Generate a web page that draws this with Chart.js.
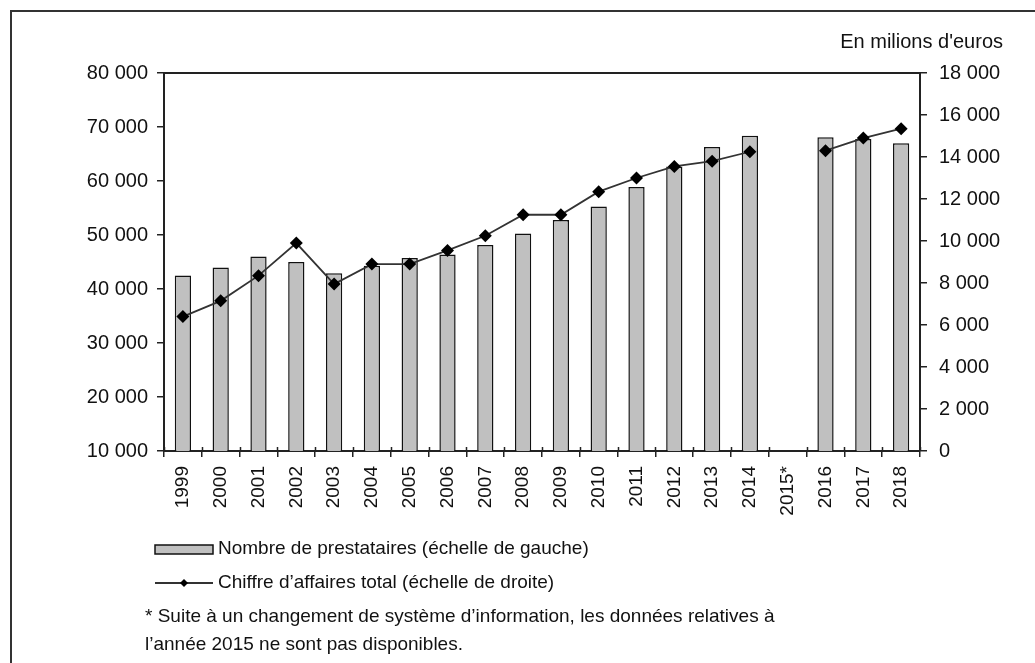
<!DOCTYPE html>
<html lang="fr">
<head>
<meta charset="utf-8">
<title>Prestataires et chiffre d'affaires</title>
<script src="https://cdn.jsdelivr.net/npm/chart.js@4.4.1/dist/chart.umd.min.js"></script>
<style>
    html, body { margin: 0; padding: 0; background: #fff; }
    canvas { display: block; }
</style>
</head>
<body>
<canvas id="chart" width="1035" height="663"></canvas>
<script>
// --- Data ---
const years = ['1999', '2000', '2001', '2002', '2003', '2004', '2005', '2006', '2007', '2008',
               '2009', '2010', '2011', '2012', '2013', '2014', '2015*', '2016', '2017', '2018'];

// Nombre de prestataires (left scale) - no data for 2015
const prestataires = [42500, 44000, 46000, 45000, 42900, 44300, 45750, 46400, 48150, 50300,
                      52800, 55300, 58900, 62700, 66300, 68400, null, 68100, 67800, 67000];

// Chiffre d'affaires total, millions d'euros (right scale)
const chiffreAffaires = [6400, 7150, 8350, 9900, 7950, 8900, 8900, 9550, 10250, 11250,
                         11250, 12350, 13000, 13550, 13800, 14250, null, 14300, 14900, 15350];

const leftTicks = [10000, 20000, 30000, 40000, 50000, 60000, 70000, 80000];
const rightTicks = [0, 2000, 4000, 6000, 8000, 10000, 12000, 14000, 16000, 18000];

const legendLabels = ['Nombre de prestataires (échelle de gauche)', 'Chiffre d\u2019affaires total (échelle de droite)'];
const noteLines = [
    '* Suite à un changement de système d\u2019information, les données relatives à',
    'l\u2019année 2015 ne sont pas disponibles.'
];
const unitLabel = 'En milions d\'euros';

const FONT = 'Arial, "Liberation Sans", sans-serif';
const INK = '#111';
const AXIS = '#222';

// "80 000" style thousands
const fmt = v => String(v).replace(/\B(?=(\d{3})+(?!\d))/g, ' ');

// --- Extras drawn on the canvas: frame, top border, tick crossings, legend, notes ---
const decorations = {
    id: 'decorations',
    afterDraw(chart) {
        const ctx = chart.ctx;
        const area = chart.chartArea;
        const x = chart.scales.x;
        ctx.save();

        // outer frame (runs off the right and bottom edges)
        ctx.strokeStyle = '#333';
        ctx.lineWidth = 2;
        ctx.beginPath();
        ctx.moveTo(11, chart.height);
        ctx.lineTo(11, 11);
        ctx.lineTo(chart.width, 11);
        ctx.stroke();

        // top border of the plot
        ctx.strokeStyle = AXIS;
        ctx.lineWidth = 2;
        ctx.beginPath();
        ctx.moveTo(area.left, area.top);
        ctx.lineTo(area.right, area.top);
        ctx.stroke();

        // category ticks poke slightly above the x axis
        ctx.lineWidth = 1.5;
        const n = years.length;
        const step = (x.right - x.left) / n;
        ctx.beginPath();
        for (let i = 0; i <= n; i++) {
            const px = Math.round(x.left + i * step) + 0.5;
            ctx.moveTo(px, area.bottom - 4);
            ctx.lineTo(px, area.bottom);
        }
        ctx.stroke();

        // unit label above right axis
        ctx.fillStyle = INK;
        ctx.font = '20px ' + FONT;
        ctx.textAlign = 'right';
        ctx.textBaseline = 'middle';
        ctx.fillText(unitLabel, 1003, 42);

        // legend
        const bars = chart.data.datasets[0];
        const line = chart.data.datasets[1];
        ctx.font = '19px ' + FONT;
        ctx.textAlign = 'left';

        ctx.fillStyle = bars.backgroundColor;
        ctx.fillRect(155, 545, 58, 9);
        ctx.strokeStyle = bars.borderColor;
        ctx.lineWidth = 1.5;
        ctx.strokeRect(155, 545, 58, 9);
        ctx.fillStyle = INK;
        ctx.fillText(legendLabels[0], 218, 549);

        ctx.strokeStyle = line.borderColor;
        ctx.lineWidth = line.borderWidth;
        ctx.beginPath();
        ctx.moveTo(155, 583);
        ctx.lineTo(213, 583);
        ctx.stroke();
        ctx.fillStyle = line.pointBackgroundColor;
        ctx.beginPath();
        ctx.moveTo(184, 579);
        ctx.lineTo(188, 583);
        ctx.lineTo(184, 587);
        ctx.lineTo(180, 583);
        ctx.closePath();
        ctx.fill();
        ctx.fillStyle = INK;
        ctx.fillText(legendLabels[1], 218, 583);

        // footnote
        noteLines.forEach((t, i) => ctx.fillText(t, 145, 617 + i * 28));

        ctx.restore();
    }
};

// --- Chart ---
new Chart(document.getElementById('chart'), {
    type: 'bar',
    data: {
        labels: years,
        datasets: [
            {
                type: 'bar',
                label: legendLabels[0],
                data: prestataires,
                yAxisID: 'y',
                backgroundColor: '#c0c0c0',
                borderColor: '#111',
                borderWidth: 1.5,
                barPercentage: 0.43,
                categoryPercentage: 1,
                order: 2
            },
            {
                type: 'line',
                label: legendLabels[1],
                data: chiffreAffaires,
                yAxisID: 'y1',
                borderColor: '#333',
                borderWidth: 1.8,
                pointStyle: 'rectRot',
                pointRadius: 6.5,
                pointBackgroundColor: '#000',
                pointBorderColor: '#000',
                pointBorderWidth: 0,
                spanGaps: false,
                tension: 0,
                order: 1
            }
        ]
    },
    options: {
        responsive: false,
        animation: false,
        layout: { padding: { top: 73, left: 0, right: 0, bottom: 0 } },
        plugins: {
            legend: { display: false },
            tooltip: { enabled: false }
        },
        scales: {
            x: {
                offset: true,
                grid: {
                    display: true,
                    offset: true,
                    drawOnChartArea: false,
                    tickLength: 6,
                    color: AXIS,
                    lineWidth: 1.5
                },
                border: { display: true, color: AXIS, width: 2 },
                ticks: {
                    autoSkip: false,
                    minRotation: 90,
                    maxRotation: 90,
                    padding: 9,
                    color: INK,
                    font: { family: FONT, size: 19 }
                },
                afterFit(scale) { scale.height = 212; }
            },
            y: {
                position: 'left',
                min: 10000,
                max: 80000,
                afterBuildTicks(scale) { scale.ticks = leftTicks.map(v => ({ value: v })); },
                grid: {
                    display: true,
                    drawOnChartArea: false,
                    tickLength: 7,
                    color: AXIS,
                    lineWidth: 1.5
                },
                border: { display: true, color: AXIS, width: 2 },
                ticks: {
                    padding: 9,
                    color: INK,
                    font: { family: FONT, size: 20 },
                    callback: v => fmt(v)
                },
                afterFit(scale) { scale.width = 164; }
            },
            y1: {
                position: 'right',
                min: 0,
                max: 18000,
                afterBuildTicks(scale) { scale.ticks = rightTicks.map(v => ({ value: v })); },
                grid: {
                    display: true,
                    drawOnChartArea: false,
                    tickLength: 7,
                    color: AXIS,
                    lineWidth: 1.5
                },
                border: { display: true, color: AXIS, width: 2 },
                ticks: {
                    padding: 12,
                    color: INK,
                    font: { family: FONT, size: 20 },
                    callback: v => fmt(v)
                },
                afterFit(scale) { scale.width = 115; }
            }
        }
    },
    plugins: [decorations]
});
</script>
</body>
</html>
